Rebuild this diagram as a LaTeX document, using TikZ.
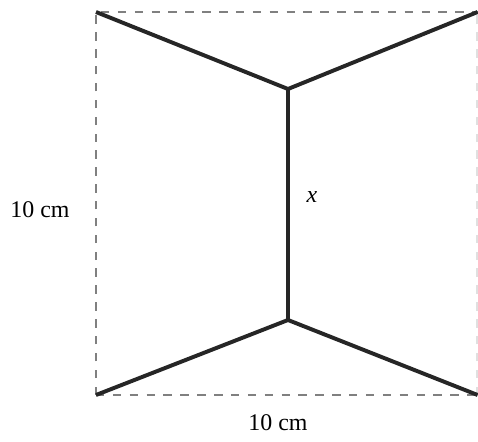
\documentclass[tikz,border=0pt]{standalone}
\usepackage{fontspec}
\setmainfont{Liberation Serif}
\usetikzlibrary{positioning}

\begin{document}
\begin{tikzpicture}[
    edge/.style={line width=2.8pt, draw=black!85, line join=miter},
    frame/.style={line width=1.8pt, draw=black!50, dash pattern=on 6pt off 6pt},
    lbl/.style={font=\fontsize{17}{20}\selectfont, inner sep=0pt}
]
\useasboundingbox (0,0) rectangle (11.95,11.025);
% corners of the square
\coordinate (bl) at (2.4,1.15);
\coordinate (br) at (11.94,1.15);
\coordinate (tl) at (2.4,10.725);
\coordinate (tr) at (11.94,10.725);
% inner points
\coordinate (top) at (7.2,8.8);
\coordinate (bot) at (7.2,3.025);

\draw[frame] (bl) -- (tl) -- (tr) (bl) -- (br);
\draw[frame, black!12] (br) -- (tr);

\draw[edge] (tl) -- (top) -- (tr);
\draw[edge] (bl) -- (bot) -- (br);
\draw[edge] (top) -- (bot);

\node[lbl] (side) at (1.0,5.775) {10 cm};
\node[lbl] (base) at (6.95,0.45) {10 cm};
\node[lbl] (len) at (7.8,6.1) {\itshape x};
\end{tikzpicture}
\end{document}
